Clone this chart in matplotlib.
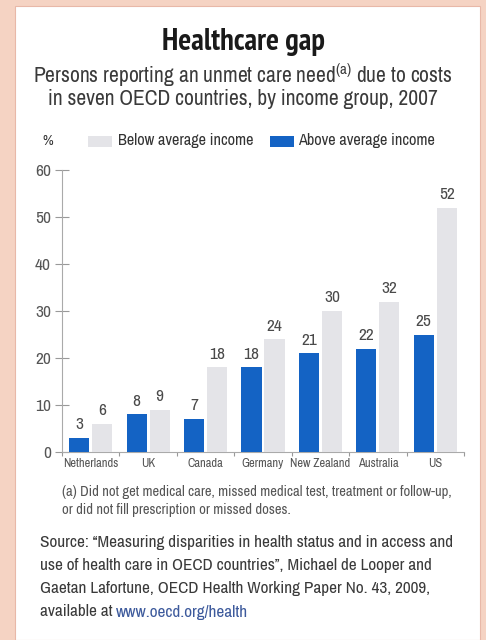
import numpy as np
import matplotlib.pyplot as plt
from matplotlib.patches import Rectangle

countries = ['Netherlands', 'UK', 'Canada', 'Germany', 'New Zealand', 'Australia', 'US']
above_avg = [3, 8, 7, 18, 21, 22, 25]
below_avg = [6, 9, 18, 24, 30, 32, 52]
y_ticks = [0, 10, 20, 30, 40, 50, 60]

BLUE = '#1463c4'
GREY = '#e4e4e8'
PINK = '#f5d3c3'
NARROW = ['Archivo Narrow', 'DejaVu Sans']
NARROW_BOLD = ['PT Sans Narrow', 'DejaVu Sans']

W, H = 486, 640
fig = plt.figure(figsize=(W / 100, H / 100), dpi=100)
fig.patch.set_facecolor(PINK)

def fx(px):
    return px / W

def fy(py):
    return 1 - py / H

# white panel inside the pink frame
panel = Rectangle((fx(15), 0), 465 / W, 634 / H, transform=fig.transFigure,
                  facecolor='white', edgecolor='#e8b8a8', linewidth=0.8, zorder=-10)
fig.patches.append(panel)

fig.text(fx(243), fy(42), 'Healthcare gap', ha='center', va='center',
         fontsize=22, fontweight='bold', family=NARROW_BOLD, color='#1a1a1a')
fig.text(fx(243), fy(75), 'Persons reporting an unmet care need$^{\\mathregular{(a)}}$ due to costs',
         ha='center', va='center', fontsize=15.5, family=NARROW, color='#3a3a3a')
fig.text(fx(243), fy(99), 'in seven OECD countries, by income group, 2007',
         ha='center', va='center', fontsize=15.5, family=NARROW, color='#3a3a3a')

# legend row
fig.text(fx(42), fy(141), '%', ha='left', va='center', fontsize=10.5, family=NARROW, color='#333333')
fig.patches.append(Rectangle((fx(88), fy(147)), 24 / W, 11 / H, transform=fig.transFigure,
                             facecolor=GREY, edgecolor='none', zorder=1))
fig.text(fx(118), fy(141), 'Below average income', ha='left', va='center',
         fontsize=11.7, family=NARROW, color='#333333')
fig.patches.append(Rectangle((fx(270), fy(147)), 24 / W, 11 / H, transform=fig.transFigure,
                             facecolor=BLUE, edgecolor='none', zorder=1))
fig.text(fx(298), fy(141), 'Above average income', ha='left', va='center',
         fontsize=11.7, family=NARROW, color='#333333')

ax = fig.add_axes([fx(62), fy(452), (464 - 62) / W, (452 - 170) / H])
ax.set_facecolor('none')

x = np.arange(len(countries))
bw = 0.35
gap = 0.05
xb = x - (bw + gap) / 2
xg = x + (bw + gap) / 2
ax.bar(xb, above_avg, width=bw, color=BLUE, zorder=3)
ax.bar(xg, below_avg, width=bw, color=GREY, zorder=3)

for xi, v in zip(xb, above_avg):
    ax.text(xi, v + 1.2, str(v), ha='center', va='bottom', fontsize=12.5,
            family=NARROW, color='#4a4a4a')
for xi, v in zip(xg, below_avg):
    ax.text(xi, v + 1.2, str(v), ha='center', va='bottom', fontsize=12.5,
            family=NARROW, color='#4a4a4a')

ax.set_xlim(-0.5, len(countries) - 0.5)
ax.set_ylim(0, 60)
ax.set_yticks(y_ticks)
ax.set_yticklabels([str(t) for t in y_ticks], family=NARROW, fontsize=12.5, color='#555555')
ax.set_xticks(np.arange(-0.5, len(countries), 1.0))
ax.set_xticklabels([])
ax.set_xticks(x, minor=True)
ax.set_xticklabels(countries, minor=True, family=NARROW, fontsize=9, color='#555555')
ax.tick_params(axis='x', which='minor', length=0, pad=4)
ax.tick_params(axis='x', which='major', direction='out', length=3, color='#999999')
ax.tick_params(axis='y', direction='inout', length=10, color='#999999', pad=3)

for side in ['top', 'right']:
    ax.spines[side].set_visible(False)
ax.spines['left'].set_color('#aaaaaa')
ax.spines['bottom'].set_color('#aaaaaa')

fig.text(fx(62), fy(492), '(a) Did not get medical care, missed medical test, treatment or follow-up,',
         ha='left', va='center', fontsize=10.5, family=NARROW, color='#555555')
fig.text(fx(62), fy(510), 'or did not fill prescription or missed doses.',
         ha='left', va='center', fontsize=10.5, family=NARROW, color='#555555')

src = ['Source: \u201cMeasuring disparities in health status and in access and',
       'use of health care in OECD countries\u201d, Michael de Looper and',
       'Gaetan Lafortune, OECD Health Working Paper No. 43, 2009,']
for i, line in enumerate(src):
    fig.text(fx(40), fy(542 + 23.5 * i), line, ha='left', va='center',
             fontsize=12.4, family=NARROW, color='#3a3a3a')
t = fig.text(fx(40), fy(612), 'available at ', ha='left', va='center',
             fontsize=12.4, family=NARROW, color='#3a3a3a')
fig.canvas.draw()
bb = t.get_window_extent()
fig.text(bb.x1 / W, fy(612), 'www.oecd.org/health', ha='left', va='center',
         fontsize=12.4, family=NARROW, color='#3d5a9c')

fig.savefig('out.png', dpi=100, facecolor=PINK)
